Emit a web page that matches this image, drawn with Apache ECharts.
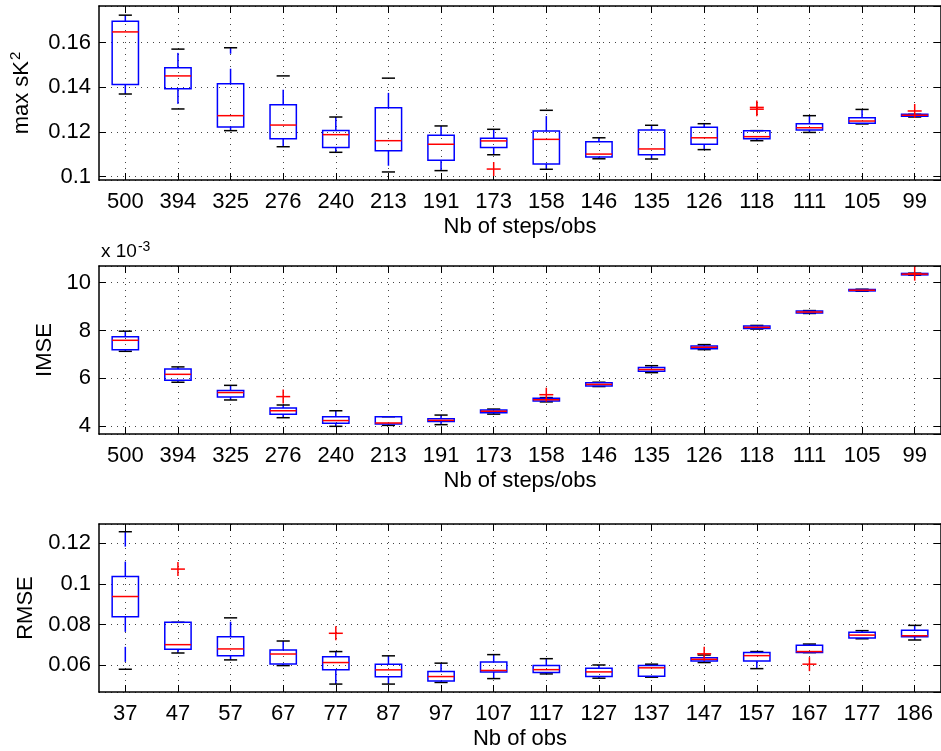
<!DOCTYPE html>
<html>
<head>
<meta charset="utf-8">
<script src="https://cdn.jsdelivr.net/npm/echarts@6/dist/echarts.min.js"></script>
<style>
  html, body { margin: 0; padding: 0; background: #fff; }
  #chart { width: 941px; height: 751px; }
</style>
</head>
<body>
<div id="chart"></div>
<script>
const stepsLabels = ['500', '394', '325', '276', '240', '213', '191', '173', '158', '146', '135', '126', '118', '111', '105', '99'];
const obsLabels = ['37', '47', '57', '67', '77', '87', '97', '107', '117', '127', '137', '147', '157', '167', '177', '186'];

// each row: [lower whisker, q1, median, q3, upper whisker]
const skBoxes = [
  [0.1370, 0.1413, 0.1648, 0.1696, 0.1723],
  [0.1303, 0.1393, 0.1451, 0.1487, 0.1571],
  [0.1206, 0.1222, 0.1273, 0.1416, 0.1577],
  [0.1134, 0.1170, 0.1231, 0.1322, 0.1451],
  [0.1109, 0.1130, 0.1188, 0.1207, 0.1267],
  [0.1021, 0.1116, 0.1161, 0.1308, 0.1441],
  [0.1027, 0.1073, 0.1145, 0.1185, 0.1227],
  [0.1098, 0.1130, 0.1160, 0.1172, 0.1212],
  [0.1033, 0.1057, 0.1167, 0.1204, 0.1297],
  [0.1080, 0.1088, 0.1101, 0.1156, 0.1174],
  [0.1079, 0.1098, 0.1124, 0.1209, 0.1230],
  [0.1121, 0.1145, 0.1174, 0.1221, 0.1237],
  [0.1161, 0.1170, 0.1179, 0.1206, 0.1206],
  [0.1198, 0.1209, 0.1219, 0.1237, 0.1273],
  [0.1236, 0.1239, 0.1249, 0.1264, 0.1301],
  [0.1267, 0.1270, 0.1275, 0.1279, 0.1279]
];
// [category index, value]
const skOutliers = [[7, 0.1034], [12, 0.1310], [12, 0.1302], [15, 0.1294]];

// IMSE, in units of 1e-3
const imseBoxes = [
  [7.13, 7.20, 7.59, 7.74, 7.97],
  [5.84, 5.92, 6.17, 6.39, 6.48],
  [5.10, 5.22, 5.41, 5.49, 5.71],
  [4.36, 4.50, 4.65, 4.76, 4.89],
  [4.00, 4.13, 4.24, 4.40, 4.65],
  [4.04, 4.10, 4.14, 4.40, 4.40],
  [4.07, 4.20, 4.25, 4.32, 4.47],
  [4.51, 4.57, 4.63, 4.68, 4.72],
  [5.02, 5.06, 5.11, 5.17, 5.20],
  [5.66, 5.68, 5.75, 5.82, 5.84],
  [6.24, 6.30, 6.37, 6.45, 6.53],
  [7.20, 7.24, 7.30, 7.35, 7.41],
  [8.06, 8.08, 8.13, 8.19, 8.21],
  [8.71, 8.73, 8.77, 8.81, 8.83],
  [9.64, 9.65, 9.68, 9.71, 9.72],
  [10.31, 10.32, 10.35, 10.38, 10.39]
];
const imseOutliers = [[3, 5.24], [8, 5.32], [15, 10.37]];

const rmseBoxes = [
  [0.0580, 0.0838, 0.0938, 0.1036, 0.1257],
  [0.0660, 0.0678, 0.0701, 0.0811, 0.0811],
  [0.0626, 0.0647, 0.0680, 0.0740, 0.0833],
  [0.0598, 0.0606, 0.0655, 0.0675, 0.0719],
  [0.0507, 0.0577, 0.0613, 0.0642, 0.0667],
  [0.0507, 0.0543, 0.0577, 0.0605, 0.0646],
  [0.0515, 0.0522, 0.0544, 0.0569, 0.0610],
  [0.0534, 0.0567, 0.0574, 0.0616, 0.0652],
  [0.0557, 0.0564, 0.0578, 0.0598, 0.0632],
  [0.0536, 0.0544, 0.0567, 0.0585, 0.0601],
  [0.0541, 0.0546, 0.0587, 0.0598, 0.0605],
  [0.0613, 0.0621, 0.0629, 0.0637, 0.0650],
  [0.0583, 0.0620, 0.0647, 0.0662, 0.0667],
  [0.0662, 0.0662, 0.0667, 0.0698, 0.0704],
  [0.0730, 0.0734, 0.0748, 0.0762, 0.0770],
  [0.0724, 0.0740, 0.0745, 0.0772, 0.0796]
];
const rmseOutliers = [[1, 0.1073], [4, 0.0757], [11, 0.0656], [13, 0.0605]];

const FONT = 'Liberation Sans, Arial, Helvetica, sans-serif';

const panels = [
  { top: 6, height: 174, cats: stepsLabels, boxes: skBoxes, outliers: skOutliers,
    min: 0.0985, max: 0.1764, yName: '{t|max sK}{s|2}', nameGap: 64, xName: 'Nb of steps/obs' },
  { top: 266, height: 168, cats: stepsLabels, boxes: imseBoxes, outliers: imseOutliers,
    min: 3.68, max: 10.69, yName: '{t|IMSE}', nameGap: 40, xName: 'Nb of steps/obs' },
  { top: 524, height: 168, cats: obsLabels, boxes: rmseBoxes, outliers: rmseOutliers,
    min: 0.0468, max: 0.1295, yName: '{t|RMSE}', nameGap: 58, xName: 'Nb of obs' }
];

function renderBox(params, api) {
  const i = api.value(0);
  const lo = api.coord([i, api.value(1)]);
  const q1 = api.coord([i, api.value(2)]);
  const md = api.coord([i, api.value(3)]);
  const q3 = api.coord([i, api.value(4)]);
  const hi = api.coord([i, api.value(5)]);
  const band = api.size([1, 0])[0];
  const cx = md[0];
  const half = band * 0.25;
  const cap = band * 0.125;
  const dash = { stroke: '#0000ff', lineWidth: 1.5, lineDash: [15, 15] };
  return {
    type: 'group',
    children: [
      { type: 'line', shape: { x1: cx, y1: q3[1], x2: cx, y2: hi[1] }, style: dash },
      { type: 'line', shape: { x1: cx, y1: q1[1], x2: cx, y2: lo[1] }, style: dash },
      { type: 'line', shape: { x1: cx - cap, y1: hi[1], x2: cx + cap, y2: hi[1] }, style: { stroke: '#000', lineWidth: 1.5 } },
      { type: 'line', shape: { x1: cx - cap, y1: lo[1], x2: cx + cap, y2: lo[1] }, style: { stroke: '#000', lineWidth: 1.5 } },
      { type: 'rect', shape: { x: cx - half, y: q3[1], width: half * 2, height: q1[1] - q3[1] },
        style: { stroke: '#0000ff', fill: 'none', lineWidth: 1.5 } },
      { type: 'line', shape: { x1: cx - half, y1: md[1], x2: cx + half, y2: md[1] }, style: { stroke: '#ff0000', lineWidth: 1.5 } }
    ]
  };
}

function renderOutlier(params, api) {
  const p = api.coord([api.value(0), api.value(1)]);
  const r = 7;
  const st = { stroke: '#ff0000', lineWidth: 1.5 };
  return {
    type: 'group',
    children: [
      { type: 'line', shape: { x1: p[0] - r, y1: p[1], x2: p[0] + r, y2: p[1] }, style: st },
      { type: 'line', shape: { x1: p[0], y1: p[1] - r, x2: p[0], y2: p[1] + r }, style: st }
    ]
  };
}

const grid = [], xAxis = [], yAxis = [], series = [];
const dotted = { color: '#444', width: 1, type: [1, 5] };
const frame = { show: true, lineStyle: { color: '#000', width: 1.5 } };
const tick = { show: true, inside: true, length: 7, alignWithLabel: true, lineStyle: { color: '#000', width: 1 } };

panels.forEach((p, k) => {
  grid.push({ left: 99, width: 846, top: p.top, height: p.height });
  xAxis.push({
    type: 'category', gridIndex: k, data: p.cats, position: 'bottom',
    axisLine: frame, axisTick: tick,
    axisLabel: { interval: 0, margin: 11, color: '#000', fontSize: 22, fontFamily: FONT },
    splitLine: { show: true, alignWithLabel: true, interval: 0, lineStyle: dotted },
    name: p.xName, nameLocation: 'middle', nameGap: 36,
    nameTextStyle: { color: '#000', fontSize: 22, fontFamily: FONT }
  });
  xAxis.push({
    type: 'category', gridIndex: k, data: p.cats, position: 'top',
    axisLine: frame, axisTick: tick, axisLabel: { show: false }, splitLine: { show: false }
  });
  yAxis.push({
    type: 'value', gridIndex: k, min: p.min, max: p.max, splitNumber: 4, position: 'left',
    axisLine: frame, axisTick: { show: true, inside: true, length: 7, lineStyle: { color: '#000' } },
    axisLabel: { margin: 8, color: '#000', fontSize: 22, fontFamily: FONT, showMinLabel: false, showMaxLabel: false },
    splitLine: { show: true, lineStyle: dotted },
    name: p.yName, nameLocation: 'middle', nameGap: p.nameGap,
    nameTextStyle: {
      color: '#000', fontFamily: FONT,
      rich: {
        t: { fontSize: 22, fontFamily: FONT, color: '#000' },
        s: { fontSize: 15, fontFamily: FONT, color: '#000', verticalAlign: 'top', padding: [0, 0, 12, 1] }
      }
    }
  });
  yAxis.push({
    type: 'value', gridIndex: k, min: p.min, max: p.max, splitNumber: 4, position: 'right',
    axisLine: frame, axisTick: { show: true, inside: true, length: 7, lineStyle: { color: '#000' } },
    axisLabel: { show: false }, splitLine: { show: false }
  });
  series.push({
    type: 'custom', xAxisIndex: 2 * k, yAxisIndex: 2 * k,
    data: p.boxes.map((b, i) => [i].concat(b)),
    encode: { x: 0, y: [1, 2, 3, 4, 5] },
    renderItem: renderBox, silent: true, z: 3
  });
  series.push({
    type: 'custom', xAxisIndex: 2 * k, yAxisIndex: 2 * k,
    data: p.outliers,
    encode: { x: 0, y: 1 },
    renderItem: renderOutlier, silent: true, z: 4
  });
});

const chart = echarts.init(document.getElementById('chart'), null, { renderer: 'canvas' });
chart.setOption({
  backgroundColor: '#fff',
  animation: false,
  grid, xAxis, yAxis, series,
  graphic: [{
    type: 'text', left: 101, top: 240,
    style: {
      text: '{a|x 10}{b|-3}',
      rich: {
        a: { fontSize: 19, fontFamily: FONT, fill: '#000' },
        b: { fontSize: 14, fontFamily: FONT, fill: '#000', verticalAlign: 'top', padding: [0, 0, 9, 1] }
      }
    }
  }]
});
</script>
</body>
</html>
